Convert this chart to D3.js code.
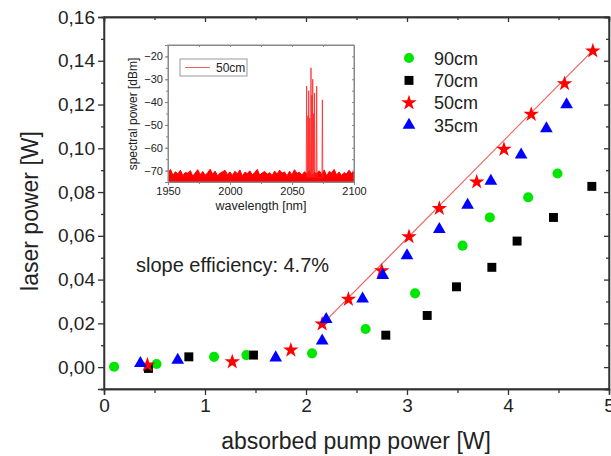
<!DOCTYPE html>
<html><head><meta charset="utf-8">
<script src="https://cdn.jsdelivr.net/npm/d3@7"></script>
<style>body{margin:0;background:#fff}svg{display:block}text{font-family:"Liberation Sans",Arial,sans-serif}</style>
</head><body><svg id="c" width="611" height="456"></svg>
<script>
// ---- data ----
const xTicks = [0,1,2,3,4,5];
const yTicks = [0,0.02,0.04,0.06,0.08,0.10,0.12,0.14,0.16];
const seriesNames = ["90cm","70cm","50cm","35cm"];
const x90 = [0.10,0.52,1.09,1.41,2.06,2.59,3.08,3.55,3.82,4.20,4.49];
const y90 = [0.0002,0.0014,0.0047,0.0055,0.0063,0.0174,0.0337,0.0555,0.0684,0.0776,0.0885];
const x70 = [0.44,0.84,1.48,2.79,3.20,3.49,3.84,4.09,4.45,4.83];
const y70 = [-0.0006,0.0047,0.0055,0.0146,0.0236,0.0367,0.0456,0.0576,0.0684,0.0826];
const x50 = [0.43,1.27,1.85,2.16,2.42,2.75,3.02,3.32,3.69,3.96,4.23,4.56,4.84];
const y50 = [0.0010,0.0024,0.0078,0.0197,0.0310,0.0440,0.0596,0.0725,0.0846,0.0995,0.1155,0.1295,0.1445];
const x35 = [0.36,0.73,1.70,2.16,2.20,2.56,2.76,3.00,3.32,3.60,3.83,4.13,4.38,4.58];
const y35 = [0.0017,0.0032,0.0043,0.0120,0.0218,0.0312,0.0420,0.0510,0.0630,0.0740,0.0850,0.0970,0.1090,0.1200];
const fitX = [2.14, 4.86];
const fitSlope = 0.0467, fitIntercept = -0.0813;
const slopeLabel = "slope efficiency: 4.7%";
// inset spectrum
const insetXTicks = [1950,2000,2050,2100];
const insetYTicks = [-20,-30,-40,-50,-60,-70];
const noiseTop = [-71,-69.5,-72,-70.5,-71.5,-69.8,-72.2,-70.8,-71.2,-70,-72.5,-71,-69.6,-71.8,-70.4,-72,-70.9,-69.4,-71.6,-70.2,-72.3,-71.1,-70.5,-69.9,-71.7,-70.6,-72.1,-70.3,-71.4,-69.7,-72.4,-70.7,-71.3,-70.1,-71.9,-70.8,-69.5,-72,-71,-70.4,-71.6,-70.9,-72.2,-70.2,-71.5,-69.8,-71.1,-70.6,-72.3,-70.3,-71.8,-69.6,-71.2,-70.7,-72,-70.5,-71.4,-69.9,-72.1,-70.8,-71.3,-70.1,-71.7,-69.7,-72.4,-70.4,-71,-69.5,-71.9,-70.6,-72.2,-70.9,-71.5,-69.8,-71.2,-70.3];
const peakWl = [2061.8,2062.8,2063.5,2064.3,2065.3,2066.0,2066.7,2067.5,2068.2,2069.9,2074.5];
const peakDb = [-33,-46,-35,-47,-25,-37,-30,-45,-36,-33,-39];

// ---- chart ----
const svg = d3.select("#c");
const x = d3.scaleLinear().domain([0,5]).range([104,609]);
const y = d3.scaleLinear().domain([-0.01,0.16]).range([389,17]);
const col = {"90cm":"#00e600","70cm":"#000000","50cm":"#ff0000","35cm":"#0000ff"};
const sym = {"90cm":d3.symbolCircle,"70cm":d3.symbolSquare,"50cm":d3.symbolStar,"35cm":d3.symbolTriangle};
const sz = {"90cm":80,"70cm":80,"50cm":75,"35cm":70};
const fmt = d => d.toFixed(2).replace(".",",");
const axCol = "#333";
const minorY = d3.range(-0.01,0.161,0.01).filter(v=>Math.abs(Math.round(v*100))%2===1);
const minorX = [0.5,1.5,2.5,3.5,4.5];

function styleAxis(g){g.selectAll("path,line").attr("stroke",axCol).attr("stroke-width",1.3);g.selectAll("text").attr("fill","#222");}

// frame
svg.append("rect").attr("x",104).attr("y",17).attr("width",505).attr("height",372).attr("fill","none").attr("stroke",axCol).attr("stroke-width",1.3);

// left axis
svg.append("g").attr("transform","translate(104,0)").call(d3.axisLeft(y).tickValues(yTicks).tickFormat(fmt).tickSize(6).tickPadding(3)).call(styleAxis).call(g=>g.selectAll("text").attr("font-size",19));
svg.append("g").attr("transform","translate(104,0)").call(d3.axisLeft(y).tickValues(minorY).tickFormat("").tickSize(3)).call(styleAxis);
// right axis inward
svg.append("g").attr("transform","translate(609,0)").call(d3.axisLeft(y).tickValues(yTicks).tickFormat("").tickSize(5)).call(styleAxis);
svg.append("g").attr("transform","translate(609,0)").call(d3.axisLeft(y).tickValues(minorY).tickFormat("").tickSize(3)).call(styleAxis);
// bottom axis
svg.append("g").attr("transform","translate(0,389)").call(d3.axisBottom(x).tickValues(xTicks).tickFormat(d3.format("d")).tickSize(6).tickPadding(4)).call(styleAxis).call(g=>g.selectAll("text").attr("font-size",19));
svg.append("g").attr("transform","translate(0,389)").call(d3.axisBottom(x).tickValues(minorX).tickFormat("").tickSize(4)).call(styleAxis);
// top axis inward
svg.append("g").attr("transform","translate(0,17)").call(d3.axisBottom(x).tickValues(xTicks).tickFormat("").tickSize(5)).call(styleAxis);
svg.append("g").attr("transform","translate(0,17)").call(d3.axisBottom(x).tickValues(minorX).tickFormat("").tickSize(3)).call(styleAxis);

// titles
svg.append("text").attr("x",356).attr("y",449).attr("text-anchor","middle").attr("font-size",23).attr("fill","#222").text("absorbed pump power [W]");
svg.append("text").attr("transform","translate(38,211) rotate(-90)").attr("text-anchor","middle").attr("font-size",23).attr("fill","#222").text("laser power [W]");
svg.append("text").attr("x",136).attr("y",272).attr("font-size",20).attr("fill","#222").text(slopeLabel);

// fit line
svg.append("line").attr("x1",x(fitX[0])).attr("y1",y(fitSlope*fitX[0]+fitIntercept))
  .attr("x2",x(fitX[1])).attr("y2",y(fitSlope*fitX[1]+fitIntercept)).attr("stroke","#f06060").attr("stroke-width",1.2);

// points
const series = [["90cm",x90,y90],["70cm",x70,y70],["50cm",x50,y50],["35cm",x35,y35]];
series.forEach(([n,xs,ys])=>{
  svg.append("g").selectAll("path").data(xs.map((v,i)=>[v,ys[i]])).join("path")
    .attr("transform",d=>`translate(${x(d[0])},${y(d[1])})`)
    .attr("d",d3.symbol(sym[n],sz[n])).attr("fill",col[n]);
});

// legend
seriesNames.forEach((n,i)=>{
  const yy = 58 + i*22.4;
  svg.append("path").attr("transform",`translate(409,${yy})`).attr("d",d3.symbol(sym[n],sz[n])).attr("fill",col[n]);
  svg.append("text").attr("x",434).attr("y",yy+6.5).attr("font-size",18).attr("fill","#222").text(n);
});

// ---- inset ----
const ix = d3.scaleLinear().domain([1950,2100]).range([168,354]);
const iy = d3.scaleLinear().domain([-75,-15]).range([182,45]);
const inset = svg.append("g");
svg.append("defs").append("clipPath").attr("id","ic").append("rect").attr("x",168).attr("y",45).attr("width",186).attr("height",137);
const ig = inset.append("g").attr("clip-path","url(#ic)");
const noiseWl = d3.range(1950,2101,2);
const noise = noiseWl.map((w,i)=>[w,noiseTop[i % noiseTop.length]]);
ig.append("path").datum(noise).attr("d",d3.area().x(d=>ix(d[0])).y0(iy(-75)).y1(d=>iy(d[1]))).attr("fill","#ff0000").attr("stroke","#ff0000").attr("stroke-width",1);
const peakPts = [];
peakWl.forEach((w,i)=>{peakPts.push([w-0.35,-73],[w,peakDb[i]],[w+0.35,-73]);});
ig.append("path").datum(peakPts).attr("d",d3.line().x(d=>ix(d[0])).y(d=>iy(d[1]))).attr("fill","none").attr("stroke","#ff2020").attr("stroke-width",0.9).attr("opacity",0.85);

const iCol = "#888";
function styleI(g){g.selectAll("path,line").attr("stroke",iCol).attr("stroke-width",1);g.selectAll("text").attr("fill","#222").attr("font-size",11);}
inset.append("rect").attr("x",168).attr("y",45).attr("width",186).attr("height",137).attr("fill","none").attr("stroke",iCol);
const iMinY = [-20,-25,-30,-35,-40,-45,-50,-55,-60,-65,-70,-75];
inset.append("g").attr("transform","translate(168,0)").call(d3.axisLeft(iy).tickValues(insetYTicks).tickSize(3).tickPadding(2)).call(styleI);
inset.append("g").attr("transform","translate(168,0)").call(d3.axisLeft(iy).tickValues(iMinY).tickFormat("").tickSize(2)).call(styleI);
inset.append("g").attr("transform","translate(354,0)").call(d3.axisLeft(iy).tickValues(iMinY).tickFormat("").tickSize(2)).call(styleI);
inset.append("g").attr("transform","translate(0,182)").call(d3.axisBottom(ix).tickValues(insetXTicks).tickFormat(d3.format("d")).tickSize(3).tickPadding(2)).call(styleI);
inset.append("g").attr("transform","translate(0,182)").call(d3.axisBottom(ix).tickValues([1975,2025,2075]).tickFormat("").tickSize(2)).call(styleI);
inset.append("g").attr("transform","translate(0,45)").call(d3.axisBottom(ix).tickValues([1975,2000,2025,2050,2075]).tickFormat("").tickSize(2)).call(styleI);
inset.append("text").attr("transform","translate(137,114) rotate(-90)").attr("text-anchor","middle").attr("font-size",12).attr("fill","#222").text("spectral power [dBm]");
inset.append("text").attr("x",261).attr("y",210).attr("text-anchor","middle").attr("font-size",12.5).attr("fill","#222").text("wavelength [nm]");
// inset legend
inset.append("rect").attr("x",180).attr("y",59).attr("width",67).attr("height",17).attr("fill","#fff").attr("stroke","#999");
inset.append("line").attr("x1",185).attr("x2",210).attr("y1",67.5).attr("y2",67.5).attr("stroke","#f06060").attr("stroke-width",1);
inset.append("text").attr("x",216).attr("y",72).attr("font-size",12).attr("fill","#222").text("50cm");
</script></body></html>
